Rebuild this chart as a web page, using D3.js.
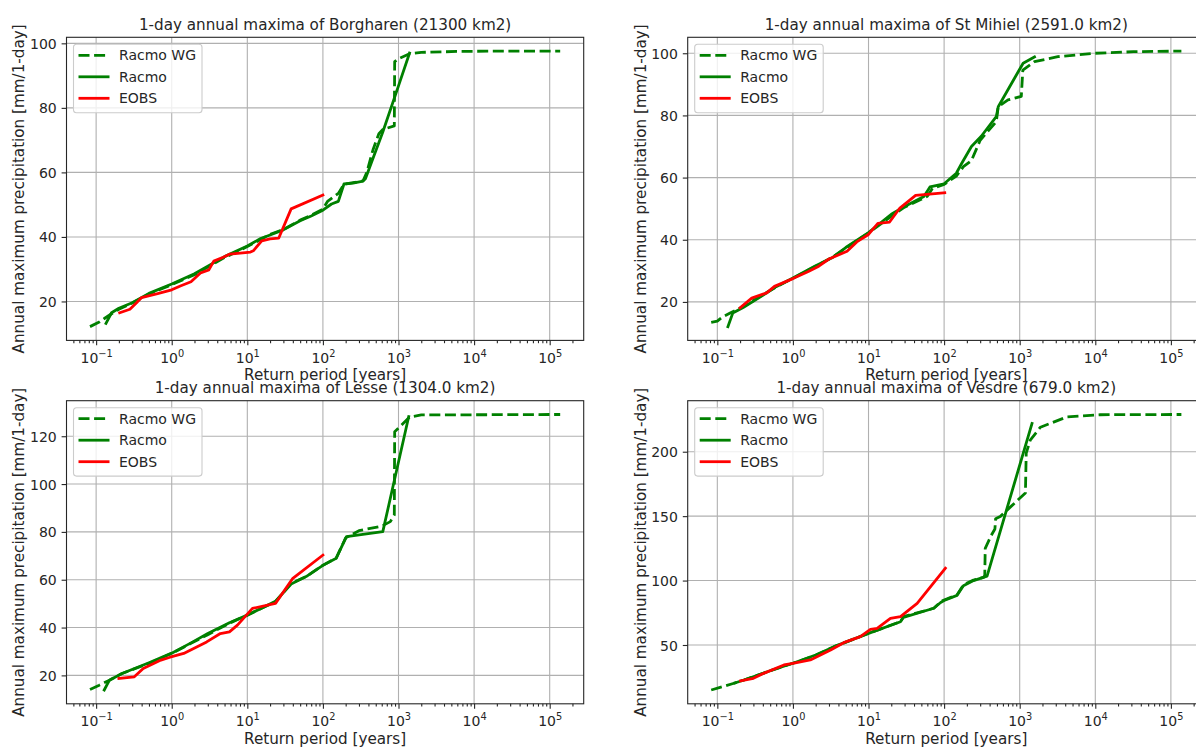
<!DOCTYPE html>
<html><head><meta charset="utf-8">
<script src="https://cdn.jsdelivr.net/npm/d3@7"></script>
<style>
body{margin:0;background:#fff;}
svg{display:block;font-family:"DejaVu Sans",sans-serif;}
</style>
</head><body>
<svg id="chart" width="1196" height="749"></svg>
<script>
// ---------------- DATA (return period [years], precipitation [mm/1-day]) ----------------
const xTickExponents = [-1, 0, 1, 2, 3, 4, 5];
const seriesNames = ["Racmo WG", "Racmo", "EOBS"];

const titleBorg = "1-day annual maxima of Borgharen (21300 km2)";
const yTicksBorg = [20, 40, 60, 80, 100];
const borgWG = [[0.083,12.2],[0.11,13.6],[0.13,14.8],[0.16,16.2],[0.2,17.6],[0.3,19.5],[0.5,22.3],[1,25.2],[2,28.3],[5,33.6],[10,37.0],[20,40.8],[30,42.3],[50,45.2],[70,46.7],[100,48.6],[115,51],[160,53.5],[190,56.3],[250,56.8],[340,57.4],[380,60],[460,67],[550,72],[620,73.3],[880,74.4],[890,94.3],[1000,95.2],[1400,96.8],[2000,97.2],[6300,97.5],[20000,97.6],[137700,97.6]];
const borgRacmo = [[0.135,13.2],[0.16,16.5],[0.2,17.9],[0.3,19.6],[0.5,22.5],[1,25.4],[2,28.6],[5,33.9],[10,37.2],[15,39.5],[20,40.6],[30,42.2],[50,45.0],[70,46.5],[100,48.3],[130,50.2],[160,51],[190,56.4],[250,56.7],[340,57.3],[365,58],[435,62.8],[620,72.5],[1000,86.8],[1400,97]];
const borgEOBS = [[0.205,16.5],[0.28,17.6],[0.34,19.5],[0.4,21.2],[0.65,22.4],[1,23.6],[1.3,24.8],[1.8,26.1],[2.4,28.8],[3.1,29.8],[3.6,32.5],[4.8,33.7],[5.9,34.7],[11,35.3],[12,35.7],[15.5,38.8],[20,39.4],[26,39.6],[38,48.7],[100,53]];

const titleMih = "1-day annual maxima of St Mihiel (2591.0 km2)";
const yTicksMih = [20, 40, 60, 80, 100];
const mihWG = [[0.083,13.4],[0.1,13.8],[0.115,15.0],[0.15,16.5],[0.22,18.5],[0.4,22.3],[0.6,24.8],[1,27.6],[2,31.5],[3.3,34.3],[5,37.3],[10,42.2],[20,47.5],[30,50.5],[50,53],[60,54],[70,56.5],[100,57.8],[145,60.5],[180,63.5],[230,65.5],[300,72],[490,78],[520,82.8],[700,85],[1050,86.1],[1100,94.6],[1570,97.3],[3200,98.9],[10000,100],[32000,100.5],[137700,100.7]];
const mihRacmo = [[0.138,12.05],[0.16,16.4],[0.22,18.2],[0.4,22.1],[0.6,24.9],[1,27.7],[2,31.6],[3.3,34.2],[5,37.5],[10,42.3],[20,48.2],[30,50.7],[54,53.9],[65,57],[100,58],[145,61.4],[172,64.7],[230,70],[310,73.3],[490,79.6],[520,82.8],[1110,96.8],[1570,98.8]];
const mihEOBS = [[0.2,18.1],[0.285,21.2],[0.45,22.9],[0.57,25],[1,27.5],[1.6,29.8],[2.2,31.5],[3,33.8],[5.2,36.3],[7,39.3],[10,41.7],[13.3,45.3],[19,45.7],[26,50.2],[42,54.3],[102,55.1]];

const titleLes = "1-day annual maxima of Lesse (1304.0 km2)";
const yTicksLes = [20, 40, 60, 80, 100, 120];
const lesWG = [[0.083,14.1],[0.11,15.9],[0.15,18],[0.22,20.8],[0.5,25],[1,29.2],[1.8,33.4],[3,37],[5.8,41.8],[10,45.2],[23.6,50.8],[38,58.5],[60,61.3],[100,66.1],[150,69],[200,77.5],[300,80.5],[600,82.4],[780,84.3],[880,87.1],[890,121.9],[1045,124],[1400,128],[2000,128.9],[137700,129.1]];
const lesRacmo = [[0.128,13.88],[0.15,18],[0.22,20.8],[0.5,25.3],[1,29.3],[1.8,33.6],[3,37.5],[5.8,42],[10,45.2],[23.6,51],[38,58.2],[60,61.3],[100,66],[150,69],[205,78],[620,80.1],[1365,128.2]];
const lesEOBS = [[0.2,18.7],[0.32,19.4],[0.42,22.9],[0.72,26.4],[0.95,27.6],[1.44,29.2],[2.9,34],[4.4,37.5],[5.8,38.2],[7.4,41],[11.7,48],[23.6,50.1],[40,60.6],[100,70.3]];

const titleVes = "1-day annual maxima of Vesdre (679.0 km2)";
const yTicksVes = [50, 100, 150, 200];
const vesWG = [[0.083,15.05],[0.166,20.3],[0.225,22.8],[0.5,30],[1,35.8],[2,42],[3.5,48.7],[10,59],[26.5,68.1],[29,72],[73,78.5],[90,83.6],[100,84.9],[148,88.8],[180,96.6],[245,100.4],[333,102.5],[345,104],[350,125],[420,135],[470,140],[480,148],[560,150],[750,157],[1190,168],[1220,199],[1380,209],[1880,219],[4200,227],[11600,228.7],[137700,228.9]];
const vesRacmo = [[0.17,20.5],[0.225,22.8],[0.5,30],[1,35.8],[2,42.2],[3.5,48.7],[10,59],[26.5,68],[29,71.5],[73,78.5],[90,83],[100,84.5],[148,88.5],[180,96],[245,100],[370,103.5],[1455,222]];
const vesEOBS = [[0.203,22.1],[0.3,24.1],[0.41,28],[0.76,34.5],[1,35.8],[1.7,38.4],[3.15,46.1],[4.7,51.8],[7.8,56.5],[10.6,62.2],[13,62.9],[19.5,70.7],[26.5,72],[44,82.3],[104,109.5]];

// ---------------- LAYOUT / STYLE ----------------
const panels = [
  {title: titleBorg, series: [borgWG, borgRacmo, borgEOBS], yTicks: yTicksBorg, left: 66.5, top: 37.3},
  {title: titleMih,  series: [mihWG, mihRacmo, mihEOBS],    yTicks: yTicksMih,  left: 687.7, top: 37.3},
  {title: titleLes,  series: [lesWG, lesRacmo, lesEOBS],    yTicks: yTicksLes,  left: 66.5, top: 400.7},
  {title: titleVes,  series: [vesWG, vesRacmo, vesEOBS],    yTicks: yTicksVes,  left: 687.7, top: 400.7}
];
const W = 517.2, H = 303.1;
const styles = [
  {color: "#008000", dash: "11,4.6", width: 2.8},
  {color: "#008000", dash: null, width: 2.8},
  {color: "#ff0000", dash: null, width: 2.8}
];
const tickFont = 14, labelFont = 15.2, titleFont = 15.2, legendFont = 14;
const majorLen = 4.9, minorLen = 2.8, pad = 4.9;

const svg = d3.select("#chart");
svg.append("rect").attr("width", 1196).attr("height", 749).attr("fill", "#fff");

panels.forEach((p, i) => {
  const g = svg.append("g").attr("transform", `translate(${p.left},${p.top})`);
  const all = p.series.flat();
  // matplotlib-like 5% margins (log for x)
  const xe = d3.extent(all, d => Math.log10(d[0]));
  const xm = (xe[1] - xe[0]) * 0.05;
  const x = d3.scaleLog().domain([Math.pow(10, xe[0] - xm), Math.pow(10, xe[1] + xm)]).range([0, W]);
  const ye = d3.extent(all, d => d[1]);
  const ym = (ye[1] - ye[0]) * 0.05;
  const y = d3.scaleLinear().domain([ye[0] - ym, ye[1] + ym]).range([H, 0]);

  const xMajor = xTickExponents.map(e => Math.pow(10, e));
  const xMinor = x.ticks().filter(v => Math.abs(Math.log10(v) - Math.round(Math.log10(v))) > 1e-6);

  // grid
  const grid = g.append("g").attr("stroke", "#b0b0b0").attr("stroke-width", 1.1);
  xMajor.forEach(v => grid.append("line").attr("x1", x(v)).attr("x2", x(v)).attr("y1", 0).attr("y2", H));
  p.yTicks.forEach(v => grid.append("line").attr("x1", 0).attr("x2", W).attr("y1", y(v)).attr("y2", y(v)));

  // clip
  const cid = "clip" + i;
  g.append("clipPath").attr("id", cid).append("rect").attr("width", W).attr("height", H);
  const plot = g.append("g").attr("clip-path", `url(#${cid})`);
  const line = d3.line().x(d => x(d[0])).y(d => y(d[1]));
  p.series.forEach((s, k) => {
    const st = styles[k];
    plot.append("path").datum(s).attr("d", line)
      .attr("fill", "none").attr("stroke", st.color).attr("stroke-width", st.width)
      .attr("stroke-linejoin", "round").attr("stroke-linecap", st.dash ? "butt" : "square")
      .attr("stroke-dasharray", st.dash);
  });

  // axes
  const xAxisMinor = g.append("g").attr("transform", `translate(0,${H})`)
    .call(d3.axisBottom(x).tickValues(xMinor).tickSize(minorLen).tickFormat(""));
  xAxisMinor.select(".domain").remove();
  const xAxis = g.append("g").attr("transform", `translate(0,${H})`)
    .call(d3.axisBottom(x).tickValues(xMajor).tickSize(majorLen).tickPadding(pad));
  xAxis.select(".domain").remove();
  xAxis.attr("font-size", tickFont).attr("font-family", null);
  xAxis.selectAll(".tick text").each(function(d) {
    const e = Math.round(Math.log10(d));
    const t = d3.select(this);
    t.attr("y", 22.3).attr("dy", null).attr("fill", "#262626").text("10");
    t.append("tspan").attr("dy", -5.9).attr("font-size", 9.8).text(e < 0 ? "\u2212" + (-e) : String(e));
  });
  [xAxis, xAxisMinor].forEach(a => a.selectAll(".tick line").attr("stroke", "#262626").attr("stroke-width", 1.1));

  const yAxis = g.append("g").call(d3.axisLeft(y).tickValues(p.yTicks).tickSize(majorLen).tickPadding(pad));
  yAxis.select(".domain").remove();
  yAxis.attr("font-size", tickFont).attr("font-family", null);
  yAxis.selectAll(".tick text").attr("dy", "0.36em").attr("fill", "#262626");
  yAxis.selectAll(".tick line").attr("stroke", "#262626").attr("stroke-width", 1.1);

  // spines
  g.append("rect").attr("width", W).attr("height", H).attr("fill", "none")
    .attr("stroke", "#262626").attr("stroke-width", 1.1);

  // labels
  g.append("text").attr("x", W / 2).attr("y", H + 40).attr("text-anchor", "middle")
    .attr("font-size", labelFont).attr("fill", "#262626").text("Return period [years]");
  g.append("text").attr("transform", `translate(${-47.5},${H / 2}) rotate(-90)`)
    .attr("text-anchor", "middle").attr("dy", "0.36em")
    .attr("font-size", labelFont).attr("fill", "#262626").text("Annual maximum precipitation [mm/1-day]");
  g.append("text").attr("x", W / 2).attr("y", -7.5).attr("text-anchor", "middle")
    .attr("font-size", titleFont).attr("fill", "#262626").text(p.title);

  // legend
  const lg = g.append("g").attr("transform", "translate(7,7)");
  lg.append("rect").attr("width", 128.5).attr("height", 68.4).attr("rx", 3)
    .attr("fill", "#fff").attr("fill-opacity", 0.8).attr("stroke", "#cccccc").attr("stroke-width", 1.1);
  seriesNames.forEach((nm, k) => {
    const yy = 11 + k * 21.5;
    const st = styles[k];
    lg.append("line").attr("x1", 5).attr("x2", 36).attr("y1", yy).attr("y2", yy)
      .attr("stroke", st.color).attr("stroke-width", st.width).attr("stroke-dasharray", st.dash);
    lg.append("text").attr("x", 45.5).attr("y", yy).attr("dy", "0.36em")
      .attr("font-size", legendFont).attr("fill", "#262626").text(nm);
  });
});
</script>
</body></html>
